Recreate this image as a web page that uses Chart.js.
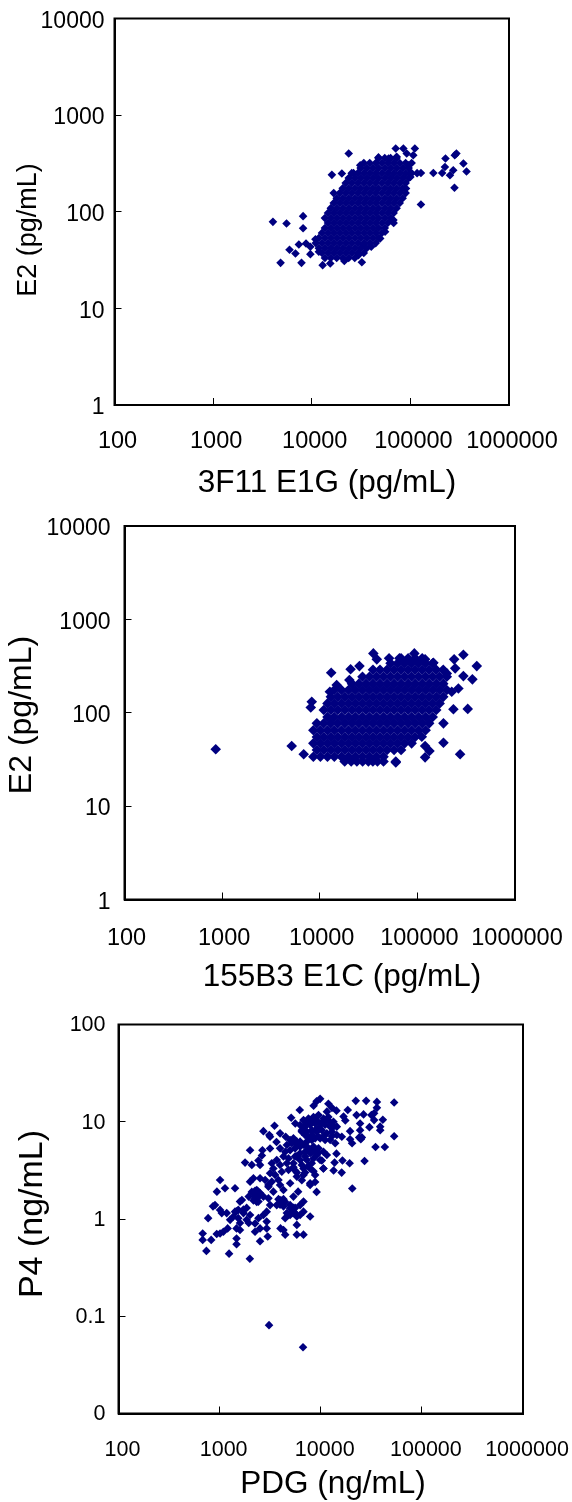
<!DOCTYPE html>
<html>
<head>
<meta charset="utf-8">
<title>Hormone scatter plots</title>
<script src="https://cdn.jsdelivr.net/npm/chart.js@4"></script>
<style>
  html, body { margin: 0; padding: 0; background: #fff; }
  #page { position: relative; width: 572px; height: 1502px; overflow: hidden; }
  canvas { position: absolute; left: 0; }
</style>
</head>
<body>
<div id="page">
  <canvas id="chart-e1g" width="572" height="510" style="top:0"></canvas>
  <canvas id="chart-e1c" width="572" height="500" style="top:510px"></canvas>
  <canvas id="chart-pdg" width="572" height="492" style="top:1010px"></canvas>
</div>
<script>
// tick values + labels
const xTicks = [100, 1000, 10000, 100000, 1000000];
const e2Ticks = [1, 10, 100, 1000, 10000];
const p4Ticks = [0.01, 0.1, 1, 10, 100];
const xTickLabels = ['100', '1000', '10000', '100000', '1000000'];
const e2TickLabels = ['1', '10', '100', '1000', '10000'];
const p4TickLabels = ['0', '0.1', '1', '10', '100'];

// top chart: 3F11 E1G vs E2, [y, [x...]] rows through the dense part
const e1gRows = [
  [33.2, [13600, 15600, 17900, 20600, 23700, 27300]],
  [37.4, [12700, 14600, 16700, 19200, 22100, 25400, 29300, 33700]],
  [42, [11800, 13600, 15600, 17900, 20600, 23700, 27300, 31300, 36000]],
  [47.4, [11000, 12700, 14600, 16700, 19200, 22100, 25400, 29300, 33700, 38700, 44500]],
  [53.5, [11800, 13600, 15600, 17900, 20600, 23700, 27300, 31300, 36000, 41500, 47500]],
  [60.4, [12700, 14600, 16700, 19200, 22100, 25400, 29300, 33700, 38700, 44500, 51300]],
  [68, [13600, 15600, 17900, 20600, 23700, 27300, 31300, 36000, 41500, 47500, 55000]],
  [76.6, [14600, 16700, 19200, 22100, 25400, 29300, 33700, 38700, 44500, 51300, 59000, 67700]],
  [86, [13600, 15600, 17900, 20600, 23700, 27300, 31300, 36000, 41500, 47500, 55000, 63000]],
  [97, [14600, 16700, 19200, 22100, 25400, 29300, 33700, 38700, 44500, 51300, 59000, 67700]],
  [109, [15600, 17900, 20600, 23700, 27300, 31300, 36000, 41500, 47500, 55000, 63000, 72500]],
  [123, [16700, 19200, 22100, 25400, 29300, 33700, 38700, 44500, 51300, 59000, 67700, 78000]],
  [138, [17900, 20600, 23700, 27300, 31300, 36000, 41500, 47500, 55000, 63000, 72500, 83500]],
  [156, [16700, 19200, 22100, 25400, 29300, 33700, 38700, 44500, 51300, 59000, 67700, 78000, 89500]],
  [175, [20600, 23700, 27300, 31300, 36000, 41500, 47500, 55000, 63000, 72500, 83500]],
  [198, [22100, 25400, 29300, 33700, 38700, 44500, 51300, 59000, 67700, 78000, 89500]],
  [223, [23700, 27300, 31300, 36000, 41500, 47500, 55000, 63000, 72500, 83500, 96000]],
  [251, [25400, 29300, 33700, 38700, 44500, 51300, 59000, 67700, 78000, 89500, 103000, 117000]],
  [283, [31300, 36000, 41500, 47500, 55000, 63000, 72500, 83500, 96000]],
  [319, [33700, 38700, 44500, 51300, 59000, 67700, 78000, 89500, 103000]],
  [359, [47500, 55000, 63000, 72500]],
];
const e1gOutliers = [
  [4040, 78.6], [5550, 75.7], [8170, 90], [8170, 67.6], [4830, 29.6], [7870, 29.6], [5950, 40.4],
  [6840, 37], [7400, 45.9], [8750, 47], [9680, 36.4], [9680, 43.4], [10900, 52], [11800, 38.5],
  [12900, 28], [15400, 29.2], [21400, 31], [32200, 30], [29800, 35.6], [33500, 45.9], [40100, 43.4],
  [49400, 53], [55400, 62], [67300, 82], [128000, 119], [90300, 174], [128000, 252], [171000, 252],
  [210000, 252], [252000, 239], [272000, 269], [224000, 291], [227000, 356], [282000, 385],
  [293000, 401], [345000, 316], [371000, 261], [280000, 177], [23700, 401], [16000, 241], [20200, 249],
  [26500, 252], [31000, 303], [47500, 365], [71000, 451], [84900, 451], [111000, 451], [91800, 401],
  [107000, 385], [72600, 370], [60000, 356], [95500, 303], [99300, 249], [100000, 229],
];

// middle chart: 155B3 E1C vs E2
const e1cRows = [
  [30, [18000, 21000, 24000, 27500, 31500, 35000, 39000, 45000, 60100]],
  [33.8, [8600, 10150, 12000, 14100, 16700, 19700, 23200, 27400, 32300, 38100, 45000]],
  [39.9, [9340, 11000, 13000, 15300, 18100, 21400, 25200, 29800, 35100, 41400, 48900, 57700, 68100]],
  [47, [8600, 10150, 12000, 14100, 16700, 19700, 23200, 27400, 32300, 38100, 45000, 53100, 62700, 74000, 87300]],
  [55, [9340, 11000, 13000, 15300, 18100, 21400, 25200, 29800, 35100, 41400, 48900, 57700, 68100, 80400, 94800]],
  [65, [8600, 10150, 12000, 14100, 16700, 19700, 23200, 27400, 32300, 38100, 45000, 53100, 62700, 74000, 87300, 103000, 121500]],
  [77, [9340, 11000, 13000, 15300, 18100, 21400, 25200, 29800, 35100, 41400, 48900, 57700, 68100, 80400, 94800, 112000, 132000]],
  [90, [12000, 14100, 16700, 19700, 23200, 27400, 32300, 38100, 45000, 53100, 62700, 74000, 87300, 103000, 121500, 143500]],
  [107, [11000, 13000, 15300, 18100, 21400, 25200, 29800, 35100, 41400, 48900, 57700, 68100, 80400, 94800, 112000, 132000, 156000]],
  [126, [12000, 14100, 16700, 19700, 23200, 27400, 32300, 38100, 45000, 53100, 62700, 74000, 87300, 103000, 121500, 143500, 169000]],
  [148, [13000, 15300, 18100, 21400, 25200, 29800, 35100, 41400, 48900, 57700, 68100, 80400, 94800, 112000, 132000, 156000, 184000]],
  [175, [14100, 16700, 19700, 23200, 27400, 32300, 38100, 45000, 53100, 62700, 74000, 87300, 103000, 121500, 143500, 169000, 200000]],
  [205, [21400, 25200, 29800, 35100, 41400, 48900, 57700, 68100, 80400, 94800, 112000, 132000, 156000, 184000]],
  [243, [27400, 32300, 38100, 45000, 53100, 62700, 74000, 87300, 103000, 121500, 143500, 169000, 200000]],
  [288, [35100, 41400, 48900, 57700, 68100, 80400, 94800, 112000, 132000, 156000, 184000]],
  [339, [53100, 62700, 74000, 87300, 103000, 121500, 143500]],
  [383, [68100, 80400, 94800, 112000]],
];
const e1cOutliers = [
  [860, 40.6], [5160, 44], [6850, 35.9], [13100, 268], [8280, 131], [8090, 114], [20700, 292],
  [25500, 316], [20100, 224], [14900, 198], [12700, 168], [35400, 432], [38400, 373], [51300, 383],
  [65500, 383], [93100, 432], [120000, 373], [146000, 343], [238000, 373], [296000, 418], [244000, 299],
  [406000, 316], [296000, 247], [366000, 228], [200000, 264], [263000, 182], [225000, 168], [328000, 110],
  [234000, 109], [185000, 77], [185000, 47.7], [274000, 35.9], [133000, 39], [120000, 44], [120000, 33.3],
  [111000, 55.4], [60100, 29.4],
];

// bottom chart: PDG vs P4
const pdgPoints = [
  [22200, 16.4], [28100, 16.4], [35900, 16], [35900, 13.9], [53200, 15.8], [53200, 7.1], [43000, 5.5],
  [34800, 5.5], [27100, 3.95], [20500, 2.06], [41100, 10.5], [38700, 8.9], [38700, 8.2], [33700, 12.2],
  [33700, 10.4], [31700, 11.7], [30300, 8.8], [26500, 11.9], [22600, 11.7], [24500, 9.6], [24500, 8.2],
  [19500, 8], [18500, 13.2], [25500, 6.9], [24900, 6.6], [24000, 6.9], [20400, 6], [19500, 6.6],
  [16400, 4], [19300, 3.75], [13400, 3.15], [16100, 3], [13700, 3.8], [14300, 4.7], [10600, 3.3],
  [9100, 1.9], [8800, 2.4], [9860, 17.2], [9100, 16.2], [8500, 14.6], [11900, 15.3], [12900, 13.9],
  [14300, 13], [11500, 12.7], [16800, 11.3], [17500, 10.3], [6200, 13.2], [5100, 11], [5600, 9.6],
  [3490, 9.1], [2710, 8], [3100, 7.3], [3960, 7.6], [4500, 7], [3650, 6.2], [3150, 7], [4980, 6.5],
  [2000, 5.1], [3150, 5.3], [2650, 5.1], [1785, 3.8], [2080, 3.6], [2510, 3.6], [2620, 4.5], [2420, 4],
  [6750, 10.4], [7560, 10.8], [8470, 11.2], [9500, 11.7], [10640, 10.8], [11900, 11.2], [13360, 10],
  [14420, 8.9], [7000, 8.9], [7850, 9.3], [8800, 9.6], [9860, 9.6], [11050, 9.3], [12400, 8.9],
  [6500, 7.9], [7280, 7.9], [8150, 8.2], [9140, 7.9], [10250, 8.2], [11480, 7.6], [12900, 7.9],
  [14420, 7.3], [16150, 7], [8800, 6.75], [9860, 6.75], [11050, 6.5], [8150, 6.5], [7280, 6.24],
  [6250, 6.24], [5370, 6.75], [12400, 6.5], [13900, 6],
  [4620, 5.77], [5180, 6], [5800, 6.24], [3960, 5.33], [4450, 4.92], [4980, 5.1], [5580, 5.33],
  [6250, 5.55], [7280, 5.55], [8470, 5.55], [9500, 5.33], [10640, 4.92], [11480, 4.55],
  [4280, 4.4], [4800, 4.2], [5580, 4.4], [6250, 4.75], [7000, 4.92], [7850, 4.75], [9140, 4.55],
  [10250, 4], [3670, 4.05], [3280, 3.75], [3960, 3.6], [4620, 3.75], [5370, 3.75], [6250, 4.05],
  [7280, 4.05], [8150, 3.75], [9860, 4.05], [10640, 3.31], [3400, 3.31], [3155, 2.95], [3540, 2.84],
  [4120, 3.06], [4800, 3.2], [5580, 3.15], [6750, 3.31], [7850, 3.31], [8800, 2.84], [6750, 2.84],
  [5800, 2.73], [3280, 2.42], [3820, 2.52], [4980, 2.33], [3960, 2.24], [3040, 2.24], [6500, 2.5],
  [7850, 2.24], [5970, 1.91], [7850, 2.33],
  [1010, 2.52], [1130, 2.07], [1420, 2.07], [940, 1.91], [2000, 2.42], [2160, 2.62], [2510, 2.62],
  [2820, 2.52], [3040, 2.15], [3400, 1.91], [4280, 1.99], [2330, 1.99], [2160, 1.84], [2510, 1.77],
  [1940, 1.7], [1660, 1.57], [1590, 1.51], [2240, 1.63], [2420, 1.51], [3040, 1.63], [3155, 1.39],
  [3960, 1.57], [4280, 1.45], [3670, 1.39], [2710, 1.7], [900, 1.39], [860, 1.35], [5370, 1.7],
  [6750, 1.51], [6250, 1.39], [4980, 1.29], [5370, 1.19], [4620, 1.15], [4800, 1.1], [4450, 1.02],
  [5800, 1.06], [6750, 1.19], [6250, 1.1], [7850, 1.06], [2920, 1.19], [2710, 1.1], [2420, 1.02],
  [1010, 1.24], [1050, 1.15], [770, 1.02], [1175, 1.15], [1370, 1.06], [1270, 0.98], [1530, 1.24],
  [1420, 1.19], [1720, 1.15], [2000, 1.1], [1530, 1.02], [1850, 0.98], [1940, 0.91], [2240, 0.9],
  [1590, 0.91], [1200, 0.8], [1470, 0.8], [1590, 0.77], [2510, 0.8], [2240, 0.74], [2920, 0.94],
  [2920, 0.8], [4000, 0.8], [4280, 0.77], [4450, 0.69], [5800, 0.87], [5800, 0.69], [6750, 0.69],
  [2990, 0.66], [2510, 0.59], [1090, 0.74], [1010, 0.71], [936, 0.7], [680, 0.71], [680, 0.61],
  [825, 0.61], [1470, 0.63], [1470, 0.55], [740, 0.47], [1240, 0.44], [1990, 0.39],
  [3080, 0.081], [6680, 0.048],
  [6250, 9.27], [6500, 8.2], [7000, 7.3], [7560, 6.9], [8150, 7.3], [8800, 8.2], [9500, 8.6],
  [10250, 9.6], [11050, 10.3], [12400, 9.9], [13360, 8.9], [12900, 7.1], [10640, 7.1], [9500, 7],
  [7280, 10], [6750, 8.9], [8150, 10.4], [9140, 10.3],
  [2080, 1.9], [2240, 1.95], [2420, 1.9], [2240, 1.7], [2420, 1.7], [2160, 1.55], [2330, 1.5], [2510, 1.85],
  [3820, 1.6], [4120, 1.55], [4280, 1.6], [3960, 1.4], [4280, 1.35], [4450, 1.5],
  [4980, 1.39], [5370, 1.3], [5580, 1.3], [5180, 1.15], [5580, 1.15], [4980, 1.1],
  [5370, 3.4], [5800, 3], [6500, 3.6], [7000, 3], [5800, 4.4],
  [5800, 5.8], [6750, 5.8], [7560, 5.2], [8150, 4.9], [8800, 5], [9500, 4.8], [7000, 4.4], [8470, 4.2],
  [7560, 3.5], [8470, 3.1], [1470, 1.2], [1720, 1.25], [1850, 1.3],
];

const markerColor = '#000080';
const font = 'Liberation Sans, Arial, sans-serif';

// frame around plot + axis captions (captions are off centre in the original)
const framePlugin = {
  id: 'frame',
  afterDraw(chart, args, opts) {
    const ctx = chart.ctx;
    const a = chart.chartArea;
    ctx.save();
    ctx.strokeStyle = '#000';
    ctx.lineWidth = 2;
    ctx.strokeRect(a.left, a.top, a.right - a.left, a.bottom - a.top);
    ctx.fillStyle = '#000';
    ctx.textAlign = 'center';
    ctx.textBaseline = 'middle';
    ctx.font = opts.xSize + 'px ' + font;
    ctx.fillText(opts.xTitle, opts.xTitleX, opts.xTitleY);
    ctx.translate(opts.yTitleX, opts.yTitleY);
    ctx.rotate(-Math.PI / 2);
    ctx.font = opts.ySize + 'px ' + font;
    ctx.fillText(opts.yTitle, 0, 0);
    ctx.restore();
  },
};

const flatten = (rows) => rows.flatMap((r) => r[1].map((x) => ({ x: x, y: r[0] })));
const toPoints = (pairs) => pairs.map((p) => ({ x: p[0], y: p[1] }));

// stops the scales from pushing the plot area in for their end labels
const noAutoPadding = (s) => {
  s.paddingLeft = 0;
  s.paddingRight = 0;
  s.paddingTop = 0;
  s.paddingBottom = 0;
};

const makeChart = (id, points, c) => {
  return new Chart(document.getElementById(id), {
    type: 'scatter',
    plugins: [framePlugin],
    data: {
      datasets: [
        {
          data: points,
          pointStyle: 'rectRot',
          pointRadius: c.radius,
          pointBackgroundColor: markerColor,
          pointBorderWidth: 0,
        },
      ],
    },
    options: {
      responsive: false,
      animation: false,
      layout: {
        autoPadding: false,
        padding: { top: c.top, right: c.right, left: 0, bottom: 0 },
      },
      plugins: {
        legend: { display: false },
        tooltip: { enabled: false },
        frame: c.titles,
      },
      scales: {
        x: {
          type: 'logarithmic',
          min: 100,
          max: 1000000,
          afterBuildTicks: (s) => { s.ticks = xTicks.map((v) => ({ value: v })); },
          afterFit: (s) => { s.height = c.xAxisHeight; noAutoPadding(s); },
          border: { color: '#000', width: 2 },
          grid: { drawOnChartArea: false, color: '#000', tickLength: -7, tickWidth: 1 },
          ticks: {
            autoSkip: false,
            maxRotation: 0,
            color: '#000',
            padding: c.xPad,
            labelOffset: c.xOffset,
            font: { family: font, size: c.xTickSize },
            callback: (v, i) => xTickLabels[i],
          },
        },
        y: {
          type: 'logarithmic',
          min: c.yTicks[0],
          max: c.yTicks[c.yTicks.length - 1],
          afterBuildTicks: (s) => { s.ticks = c.yTicks.map((v) => ({ value: v })); },
          afterFit: (s) => { s.width = c.left; noAutoPadding(s); },
          border: { color: '#000', width: 2 },
          grid: { drawOnChartArea: false, color: '#000', tickLength: -7, tickWidth: 1 },
          ticks: {
            autoSkip: false,
            color: '#000',
            padding: c.yPad,
            labelOffset: c.yOffset,
            font: { family: font, size: c.yTickSize },
            callback: (v, i) => c.yLabels[i],
          },
        },
      },
    },
  });
};

makeChart('chart-e1g', flatten(e1gRows).concat(toPoints(e1gOutliers)), {
  radius: 4.3, left: 114.5, top: 18.5, right: 63, xAxisHeight: 105,
  xPad: 29, xOffset: 3, xTickSize: 23.5, yPad: 17, yOffset: 3, yTickSize: 23,
  yTicks: e2Ticks, yLabels: e2TickLabels,
  titles: { xTitle: '3F11 E1G (pg/mL)', xTitleX: 327, xTitleY: 483, xSize: 31.5,
    yTitle: 'E2 (pg/mL)', yTitleX: 29, yTitleY: 230, ySize: 27 },
});

makeChart('chart-e1c', flatten(e1cRows).concat(toPoints(e1cOutliers)), {
  radius: 5.3, left: 124.5, top: 16, right: 57, xAxisHeight: 110.5,
  xPad: 32, xOffset: 2, xTickSize: 23.5, yPad: 21, yOffset: 3, yTickSize: 23,
  yTicks: e2Ticks, yLabels: e2TickLabels,
  titles: { xTitle: '155B3 E1C (pg/mL)', xTitleX: 342, xTitleY: 467, xSize: 31.5,
    yTitle: 'E2 (pg/mL)', yTitleX: 22, yTitleY: 205, ySize: 32 },
});

makeChart('chart-pdg', toPoints(pdgPoints), {
  radius: 4.3, left: 118.5, top: 14.5, right: 49, xAxisHeight: 88.5,
  xPad: 31, xOffset: 4, xTickSize: 21.5, yPad: 20, yOffset: 1, yTickSize: 21.5,
  yTicks: p4Ticks, yLabels: p4TickLabels,
  titles: { xTitle: 'PDG (ng/mL)', xTitleX: 333, xTitleY: 474, xSize: 31.5,
    yTitle: 'P4 (ng/mL)', yTitleX: 33, yTitleY: 204, ySize: 34 },
});
</script>
</body>
</html>
